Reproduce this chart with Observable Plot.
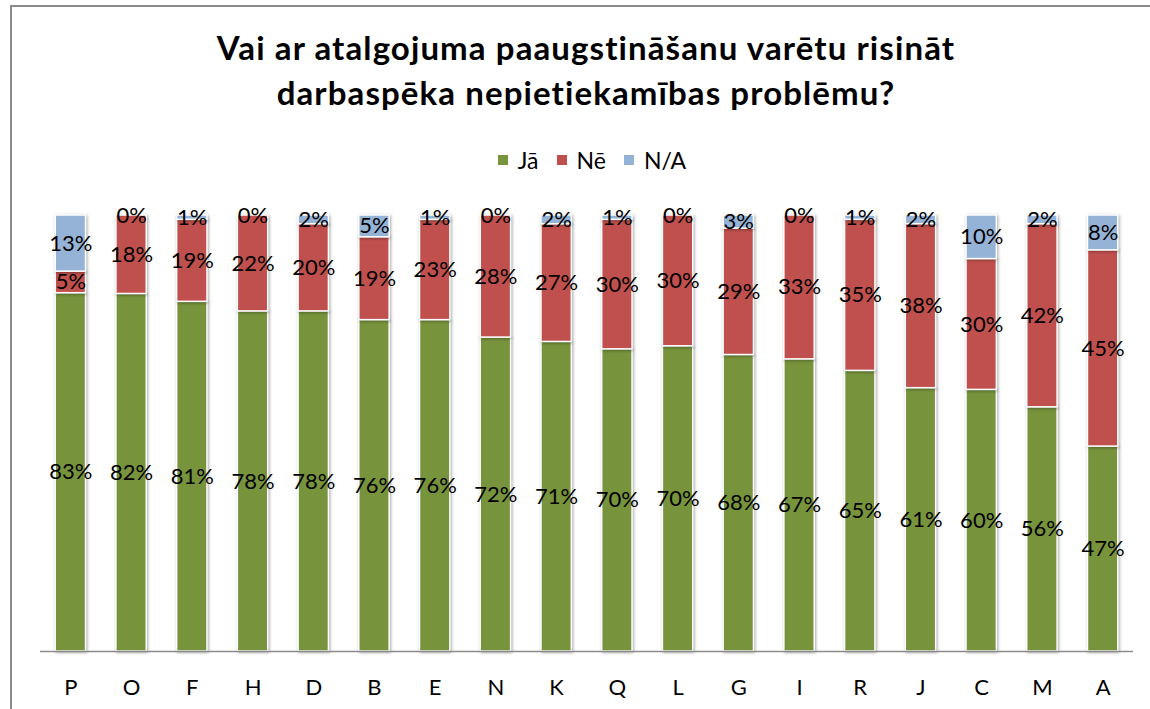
<!DOCTYPE html>
<html><head><meta charset="utf-8">
<script src="https://cdn.jsdelivr.net/npm/d3@7"></script>
<script src="https://cdn.jsdelivr.net/npm/@observablehq/plot@0.6"></script>
<style>
body{margin:0;background:#fff;overflow:hidden;font-family:Lato,"Open Sans",sans-serif;}
#wrap{position:relative;width:1150px;height:709px;overflow:hidden;background:#fff;}
#frame{position:absolute;left:10px;top:5px;width:1170px;height:730px;border:2px solid #8a8a8a;box-sizing:border-box;pointer-events:none;}
#title{position:absolute;left:22px;width:1128px;top:25px;text-align:center;font-weight:bold;font-size:33px;letter-spacing:1.1px;line-height:45px;color:#000;}
#legend{position:absolute;left:28px;width:1128px;top:145px;height:30px;display:flex;justify-content:center;align-items:center;font-size:23px;color:#000;}
#legend .item{display:flex;align-items:center;margin:0 9px;}
#legend .sw{width:10px;height:10px;margin-right:10px;}
#chart{position:absolute;left:0;top:185px;}
#chart g[aria-label="bar"] rect{filter:drop-shadow(1px 1px 1.5px rgba(0,0,0,0.35));}
</style>
</head><body>
<div id="wrap">
  <div id="title">Vai ar atalgojuma paaugstināšanu varētu risināt<br>darbaspēka nepietiekamības problēmu?</div>
  <div id="legend"></div>
  <div id="chart"></div>
  <div id="frame"></div>
</div>
<script>
const categories = ["P","O","F","H","D","B","E","N","K","Q","L","G","I","R","J","C","M","A"];
const series = ["Jā","Nē","N/A"];
const ja = [83,82,81,78,78,76,76,72,71,70,70,68,67,65,61,60,56,47];
const ne = [5,18,19,22,20,19,23,28,27,30,30,29,33,35,38,30,42,45];
const na = [13,0,1,0,2,5,1,0,2,1,0,3,0,1,2,10,2,8];
const colors = ["#77933C","#C0504D","#95B3D7"];

const values = [ja, ne, na];
const rows = categories.flatMap((c, i) => series.map((s, j) => ({cat: c, series: s, value: values[j][i]})));

// legend
const leg = d3.select("#legend");
series.forEach((s, j) => {
  const it = leg.append("div").attr("class", "item");
  it.append("div").attr("class", "sw").style("background", colors[j]);
  it.append("span").text(s);
});

const chart = Plot.plot({
  width: 1150,
  height: 524,
  marginLeft: 40,
  marginRight: 17,
  marginTop: 30,
  marginBottom: 58,
  style: {fontFamily: "Lato, 'Open Sans', sans-serif", color: "#000", background: "transparent"},
  x: {type: "band", domain: categories, paddingInner: 0.5, paddingOuter: 0.25, round: false, label: null},
  y: {domain: [0, 1], axis: null},
  color: {domain: series, range: colors},
  marks: [
    Plot.barY(rows, Plot.stackY({offset: "normalize", x: "cat", y: "value", z: "series", fill: "series", stroke: "white", strokeWidth: 1.5})),
    Plot.ruleY([0], {stroke: "#8c8c8c", strokeWidth: 1.5}),
    Plot.text(rows, Plot.stackY({offset: "normalize", x: "cat", y: "value", z: "series", text: d => d.value + "%", fill: "#000", fontSize: 22})),
    Plot.axisX({tickSize: 0, tickPadding: 28, fontSize: 22, label: null})
  ]
});
document.getElementById("chart").appendChild(chart);
</script>
</body></html>
